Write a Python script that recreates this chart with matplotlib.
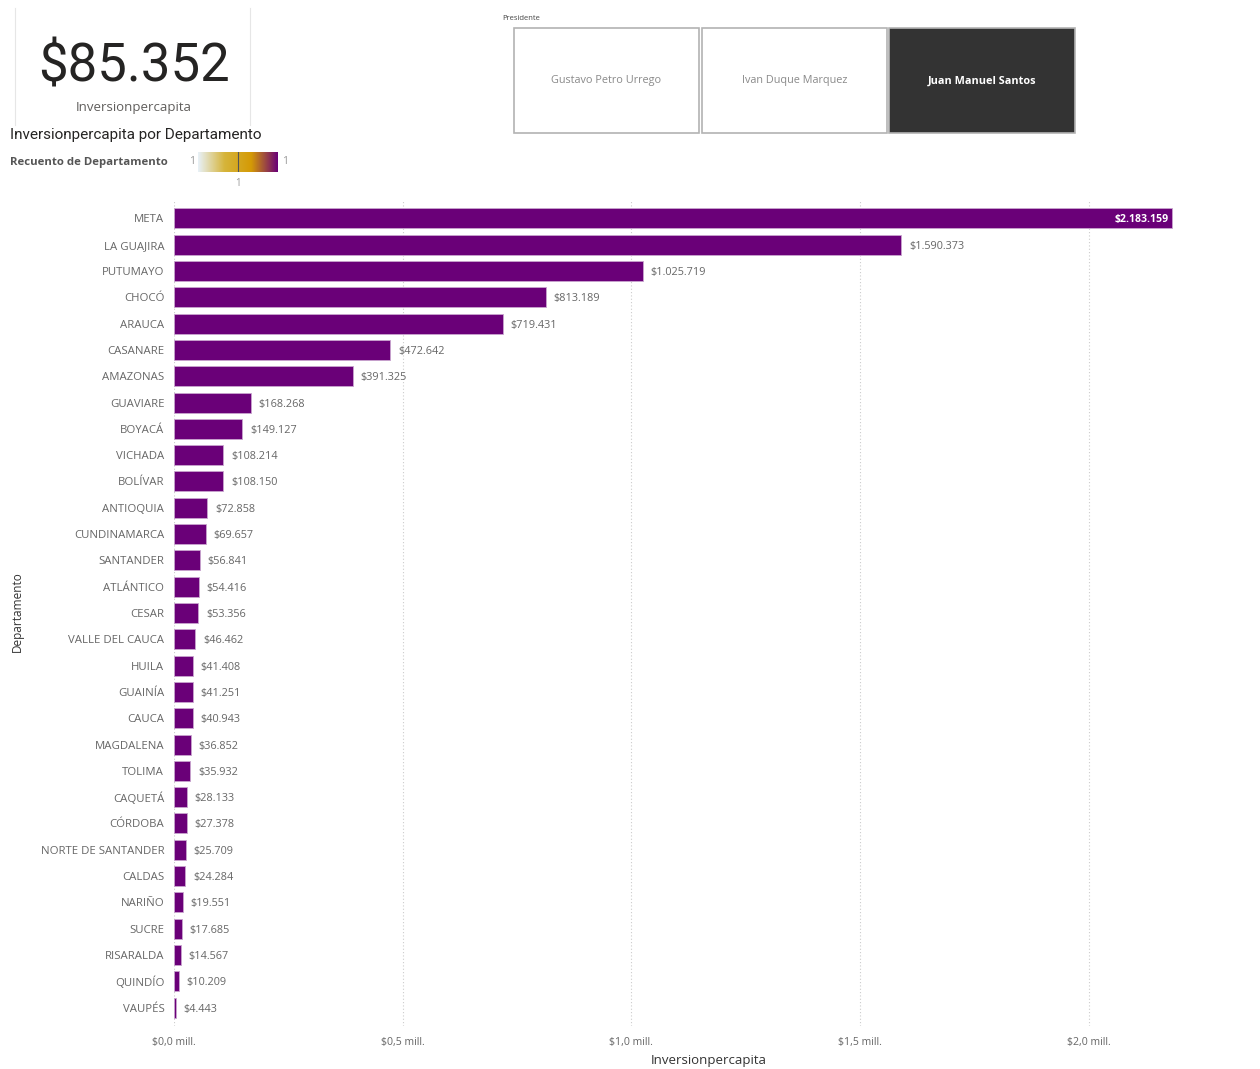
import numpy as np
import matplotlib.pyplot as plt
from matplotlib.patches import Rectangle
from matplotlib.colors import LinearSegmentedColormap

departamentos = [
    'META', 'LA GUAJIRA', 'PUTUMAYO', 'CHOCÓ', 'ARAUCA', 'CASANARE', 'AMAZONAS',
    'GUAVIARE', 'BOYACÁ', 'VICHADA', 'BOLÍVAR', 'ANTIOQUIA', 'CUNDINAMARCA',
    'SANTANDER', 'ATLÁNTICO', 'CESAR', 'VALLE DEL CAUCA', 'HUILA', 'GUAINÍA',
    'CAUCA', 'MAGDALENA', 'TOLIMA', 'CAQUETÁ', 'CÓRDOBA', 'NORTE DE SANTANDER',
    'CALDAS', 'NARIÑO', 'SUCRE', 'RISARALDA', 'QUINDÍO', 'VAUPÉS',
]
inversion = [
    2183159, 1590373, 1025719, 813189, 719431, 472642, 391325,
    168268, 149127, 108214, 108150, 72858, 69657,
    56841, 54416, 53356, 46462, 41408, 41251,
    40943, 36852, 35932, 28133, 27378, 25709,
    24284, 19551, 17685, 14567, 10209, 4443,
]
xticks = [0, 500000, 1000000, 1500000, 2000000]
xtick_labels = ['$0,0 mill.', '$0,5 mill.', '$1,0 mill.', '$1,5 mill.', '$2,0 mill.']
presidentes = ['Gustavo Petro Urrego', 'Ivan Duque Marquez', 'Juan Manuel Santos']
tarjeta_valor = '$85.352'

plt.rcParams['font.family'] = ['Open Sans', 'DejaVu Sans']

W, H = 1260, 1069
fig = plt.figure(figsize=(W / 100, H / 100), dpi=100)
fig.patch.set_facecolor('white')

def fx(px):
    return px / W

def fy(py):
    return 1 - py / H

PURPLE = '#6A0078'
GRAY = '#666666'

# --- main bar chart ---
ax = fig.add_axes([fx(174), fy(1026), fx(1244) - fx(174), fy(200) - fy(1026)])
y = np.arange(len(departamentos))
ax.barh(y, inversion, height=0.76, color=PURPLE, edgecolor='#c9a5cf', linewidth=0.6, zorder=2)
ax.set_ylim(len(departamentos) - 0.3, -0.7)
ax.set_xlim(0, 2340000)
ax.set_yticks(y)
ax.set_yticklabels(departamentos, fontsize=8.2, color=GRAY, va='center_baseline')
ax.set_xticks(xticks)
ax.set_xticklabels(xtick_labels, fontsize=7.6, color=GRAY)
ax.tick_params(length=0, pad=7)
ax.tick_params(axis='x', pad=8)
for s in ax.spines.values():
    s.set_visible(False)
ax.grid(axis='x', linestyle=(0, (1, 2)), color='#cccccc', linewidth=0.8, zorder=0)

for i, v in enumerate(inversion):
    lab = '$' + f'{v:,}'.replace(',', '.')
    if i == 0:
        ax.text(v - 8000, i, lab, ha='right', va='center_baseline', fontsize=7.6,
                color='white', fontweight='bold')
    else:
        ax.text(v + 17000, i, lab, ha='left', va='center_baseline', fontsize=7.8, color=GRAY)

ax.set_xlabel('Inversionpercapita', fontsize=9.5, color='#333333', labelpad=4)
fig.text(fx(17), fy(612), 'Departamento', rotation=90, ha='center', va='center',
         fontsize=8.5, color='#333333')

# --- card ---
fig.add_artist(plt.Line2D([fx(15), fx(15)], [fy(8), fy(125)], color='#e6e6e6', lw=0.8))
fig.add_artist(plt.Line2D([fx(250), fx(250)], [fy(8), fy(125)], color='#e6e6e6', lw=0.8))
fig.text(fx(134), fy(67), tarjeta_valor, ha='center', va='center', fontsize=38,
         color='#252423', family=['Roboto', 'DejaVu Sans'])
fig.text(fx(134), fy(108), 'Inversionpercapita', ha='center', va='center', fontsize=9.5,
         color='#605e5c')

# --- chart title and legend ---
fig.text(fx(10), fy(135), 'Inversionpercapita por Departamento', ha='left', va='center',
         fontsize=11, color='#252423', family=['Roboto', 'DejaVu Sans'])
fig.text(fx(10), fy(162), 'Recuento de Departamento', ha='left', va='center',
         fontsize=8.2, color='#555555', fontweight='bold')
fig.text(fx(192), fy(162), '1', ha='center', va='center', fontsize=7.5, color='#999999')
fig.text(fx(285), fy(162), '1', ha='center', va='center', fontsize=7.5, color='#999999')
fig.text(fx(238), fy(183), '1', ha='center', va='center', fontsize=7, color='#999999')
cax = fig.add_axes([fx(198), fy(172), fx(278) - fx(198), fy(152) - fy(172)])
cmap = LinearSegmentedColormap.from_list('leg', ['#e8f1f8', '#d6b43a', '#d49a05', '#6A0078'])
cax.imshow(np.linspace(0, 1, 256)[None, :], aspect='auto', cmap=cmap)
cax.axvline(128, color='#555555', lw=0.8)
cax.set_axis_off()

# --- slicer ---
fig.text(fx(502), fy(18), 'Presidente', ha='left', va='center', fontsize=5.5, color='#444444')
boxes = [(514, 699), (702, 887), (889, 1075)]
for k, (name, (x0, x1)) in enumerate(zip(presidentes, boxes)):
    sel = k == 2
    r = Rectangle((fx(x0), fy(133)), fx(x1) - fx(x0), fy(28) - fy(133),
                  transform=fig.transFigure, facecolor='#333333' if sel else 'white',
                  edgecolor='#b3b3b3', linewidth=1.2)
    fig.add_artist(r)
    fig.text(fx((x0 + x1) / 2), fy(81), name, ha='center', va='center', fontsize=7.8,
             color='white' if sel else '#8a8a8a', fontweight='bold' if sel else 'normal')

fig.savefig('out.png', dpi=100)
